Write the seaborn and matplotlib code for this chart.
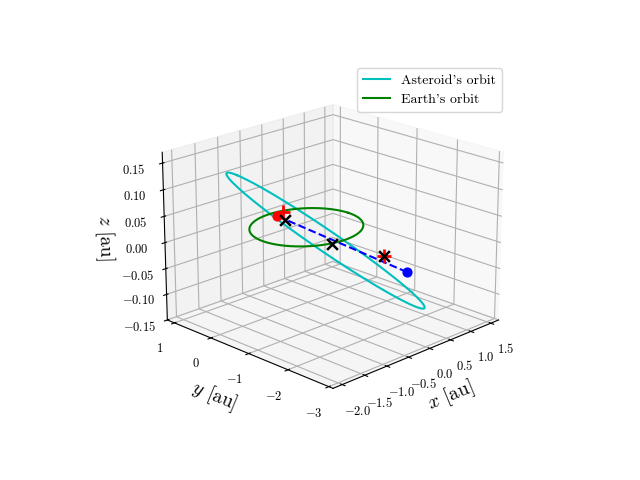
import numpy as np
import matplotlib
matplotlib.use('Agg')
import matplotlib.pyplot as plt
import seaborn as sns

plt.rcParams['mathtext.fontset'] = 'cm'
plt.rcParams['font.family'] = 'serif'
plt.rcParams['font.serif'] = ['cmr10']
plt.rcParams['axes.formatter.use_mathtext'] = True
plt.rcParams['axes.unicode_minus'] = True

# asteroid orbit: semi-major axis [au], eccentricity, perihelion and in-plane directions
asteroid_a, asteroid_e = 1.75, 0.22
asteroid_P = [-0.40, 0.92, 0.062]
asteroid_Q = [0.92, 0.40, -0.054]
# Earth orbit
earth_a, earth_e = 1.0, 0.0167
earth_P = [1.0, 0.0, 0.0]
earth_Q = [0.0, 1.0, 0.0]

# positions of interest [au]
blue_dot = [0.76, -1.75, -0.065]
red_circle = [-0.24, 0.54, 0.014]
red_plus = [[-0.12, 0.52, 0.018], [0.59, -1.35, -0.04]]
black_x = [[-0.17, 0.40, 0.008], [0.19, -0.43, -0.028], [0.59, -1.35, -0.04]]


def orbit(a, e, P, Q, n=400):
    P = np.array(P) / np.linalg.norm(P)
    Q = np.array(Q) - np.dot(Q, P) * P
    Q = Q / np.linalg.norm(Q)
    nu = np.linspace(0, 2 * np.pi, n)
    r = a * (1 - e ** 2) / (1 + e * np.cos(nu))
    pts = np.outer(r * np.cos(nu), P) + np.outer(r * np.sin(nu), Q)
    return pts[:, 0], pts[:, 1], pts[:, 2]


fig = plt.figure(figsize=(6.4, 4.8), dpi=100)
ax = fig.add_subplot(projection='3d')
ax.view_init(elev=20, azim=-135)

ax.plot(*orbit(asteroid_a, asteroid_e, asteroid_P, asteroid_Q), color='c', label="Asteroid's orbit")
ax.plot(*orbit(earth_a, earth_e, earth_P, earth_Q), color='g', label="Earth's orbit")

ax.plot([blue_dot[0], red_circle[0]], [blue_dot[1], red_circle[1]],
        [blue_dot[2], red_circle[2]], 'b--')
ax.scatter(*blue_dot, color='b', s=40, depthshade=False)
ax.scatter(*red_circle, color='r', s=40, depthshade=False)
for p in red_plus:
    ax.scatter(*p, color='r', marker='+', s=90, linewidths=2, depthshade=False)
for p in black_x:
    ax.scatter(*p, color='k', marker='x', s=60, linewidths=1.8, depthshade=False)

ax.set_xlim(-2.2, 1.7)
ax.set_ylim(-3.1, 1.2)
ax.set_zlim(-0.15, 0.17)
ax.set_xticks([-2.0, -1.5, -1.0, -0.5, 0.0, 0.5, 1.0, 1.5])
ax.set_yticks([-3, -2, -1, 0, 1])
ax.set_zticks([-0.15, -0.10, -0.05, 0.0, 0.05, 0.10, 0.15])
ax.set_xlabel('$x$ [au]', fontsize=14)
ax.set_ylabel('$y$ [au]', fontsize=14)
ax.set_zlabel('$z$ [au]', fontsize=14)
ax.tick_params(labelsize=9)
fig.legend(loc='upper right', bbox_to_anchor=(0.795, 0.872), fontsize=10)

plt.savefig('out.png')
